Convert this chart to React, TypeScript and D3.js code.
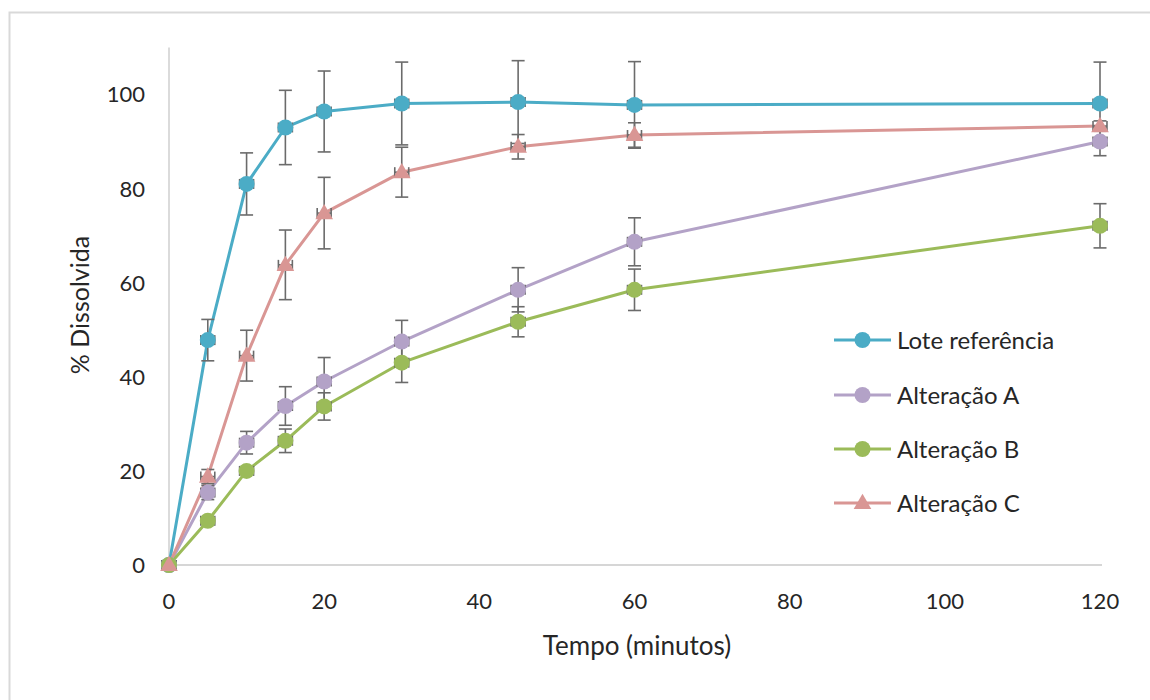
import React from 'react';
import * as d3 from 'd3';

// Tempo de coleta (minutos)
const tempos = [0, 5, 10, 15, 20, 30, 45, 60, 120];

// Percentual dissolvido (média) e desvio padrão de cada lote
const loteReferencia = [0, 47.8, 81.0, 93.0, 96.4, 98.1, 98.4, 97.8, 98.1];
const loteReferenciaDP = [0, 4.4, 6.6, 7.9, 8.6, 8.8, 8.8, 9.2, 8.8];

const alteracaoA = [0, 15.4, 26.0, 33.8, 39.0, 47.5, 58.5, 68.7, 90.0];
const alteracaoADP = [0, 1.5, 2.4, 4.1, 5.1, 4.5, 4.7, 5.1, 3.0];

const alteracaoB = [0, 9.4, 20.0, 26.4, 33.7, 43.0, 51.7, 58.5, 72.1];
const alteracaoBDP = [0, 0.5, 0.5, 2.5, 2.9, 4.2, 3.2, 4.4, 4.7];

const alteracaoC = [0, 18.8, 44.5, 63.8, 74.8, 83.5, 88.9, 91.4, 93.3];
const alteracaoCDP = [0, 1.5, 5.4, 7.4, 7.6, 5.3, 2.6, 2.6, 1.1];

const seriesNomes = ['Lote referência', 'Alteração A', 'Alteração B', 'Alteração C'];
const seriesCores = ['#4bacc6', '#b3a2c7', '#9bbb59', '#d99694'];
const seriesMarcadores = ['circle', 'circle', 'circle', 'triangle'];

const yTicks = [0, 20, 40, 60, 80, 100];
const xTicks = [0, 20, 40, 60, 80, 100, 120];

const FONT = 'Lato, "Open Sans", sans-serif';

type Serie = {
  nome: string;
  cor: string;
  marcador: string;
  valores: number[];
  dp: number[];
};

const series: Serie[] = [
  { nome: seriesNomes[0], cor: seriesCores[0], marcador: seriesMarcadores[0], valores: loteReferencia, dp: loteReferenciaDP },
  { nome: seriesNomes[1], cor: seriesCores[1], marcador: seriesMarcadores[1], valores: alteracaoA, dp: alteracaoADP },
  { nome: seriesNomes[2], cor: seriesCores[2], marcador: seriesMarcadores[2], valores: alteracaoB, dp: alteracaoBDP },
  { nome: seriesNomes[3], cor: seriesCores[3], marcador: seriesMarcadores[3], valores: alteracaoC, dp: alteracaoCDP },
];

const triangulo = d3.symbol().type(d3.symbolTriangle).size(135)();

function Marcador({ tipo, cor, x, y }: { tipo: string; cor: string; x: number; y: number }) {
  if (tipo === 'triangle') {
    return <path d={triangulo as string} transform={`translate(${x},${y + 1})`} fill={cor} />;
  }
  return <circle cx={x} cy={y} r={8} fill={cor} />;
}

export default function App() {
  const x = d3.scaleLinear().domain([0, 120]).range([169, 1100]);
  const y = d3.scaleLinear().domain([0, 110]).range([565, 47.5]);

  const linha = d3
    .line<number>()
    .x((_, i) => x(tempos[i]))
    .y((v) => y(v));

  const capY = 6.5; // meia largura da barra de erro vertical
  const errX = 0.9; // barra de erro horizontal (minutos)
  const erroCor = '#6b6b6b';

  const legendaX0 = 834;
  const legendaX1 = 891;
  const legendaY = [340, 395, 449, 503];

  return (
    <svg
      width={1150}
      height={700}
      style={{ position: 'fixed', left: 0, top: 0, background: '#ffffff' }}
      fontFamily={FONT}
    >
      <rect x={0} y={0} width={1150} height={700} fill="#ffffff" />
      <rect x={9.5} y={12.5} width={1300} height={900} fill="none" stroke="#d9d9d9" strokeWidth={2} />

      {/* eixos */}
      <line x1={x(0)} x2={x(0)} y1={y(110)} y2={y(0)} stroke="#c8c8c8" strokeWidth={1.3} />
      <line x1={x(0)} x2={x(120) + 2} y1={y(0)} y2={y(0)} stroke="#c8c8c8" strokeWidth={1.3} />

      {yTicks.map((t) => (
        <text key={`y${t}`} x={145} y={y(t)} dy="0.36em" textAnchor="end" fontSize={22} fill="#262626">
          {t}
        </text>
      ))}
      {xTicks.map((t) => (
        <text key={`x${t}`} x={x(t)} y={609} textAnchor="middle" fontSize={22} fill="#262626">
          {t}
        </text>
      ))}

      <text x={637} y={655} textAnchor="middle" fontSize={26} fill="#262626">
        Tempo (minutos)
      </text>
      <text
        transform={`translate(89,305) rotate(-90)`}
        textAnchor="middle"
        fontSize={25}
        fill="#262626"
      >
        % Dissolvida
      </text>

      {/* linhas das séries */}
      {series.map((s) => (
        <path key={`l-${s.nome}`} d={linha(s.valores) as string} fill="none" stroke={s.cor} strokeWidth={3} strokeLinejoin="round" />
      ))}

      {/* barras de erro */}
      {series.map((s) =>
        s.valores.map((v, i) => {
          const cx = x(tempos[i]);
          const top = y(v + s.dp[i]);
          const bot = y(v - s.dp[i]);
          const xl = x(tempos[i] - errX);
          const xr = x(tempos[i] + errX);
          const cy = y(v);
          return (
            <g key={`e-${s.nome}-${i}`} stroke={erroCor} strokeWidth={1.6} fill="none">
              <line x1={cx} x2={cx} y1={top} y2={bot} />
              <line x1={cx - capY} x2={cx + capY} y1={top} y2={top} />
              <line x1={cx - capY} x2={cx + capY} y1={bot} y2={bot} />
              <line x1={xl} x2={xr} y1={cy} y2={cy} />
              <line x1={xl} x2={xl} y1={cy - 5} y2={cy + 5} />
              <line x1={xr} x2={xr} y1={cy - 5} y2={cy + 5} />
            </g>
          );
        })
      )}

      {/* marcadores */}
      {series.map((s) =>
        s.valores.map((v, i) => (
          <Marcador key={`m-${s.nome}-${i}`} tipo={s.marcador} cor={s.cor} x={x(tempos[i])} y={y(v)} />
        ))
      )}

      {/* legenda */}
      {series.map((s, i) => (
        <g key={`lg-${s.nome}`}>
          <line x1={legendaX0} x2={legendaX1} y1={legendaY[i]} y2={legendaY[i]} stroke={s.cor} strokeWidth={3} />
          <Marcador tipo={s.marcador} cor={s.cor} x={(legendaX0 + legendaX1) / 2} y={legendaY[i]} />
          <text x={897} y={legendaY[i]} dy="0.36em" fontSize={24} fill="#262626">
            {s.nome}
          </text>
        </g>
      ))}
    </svg>
  );
}
